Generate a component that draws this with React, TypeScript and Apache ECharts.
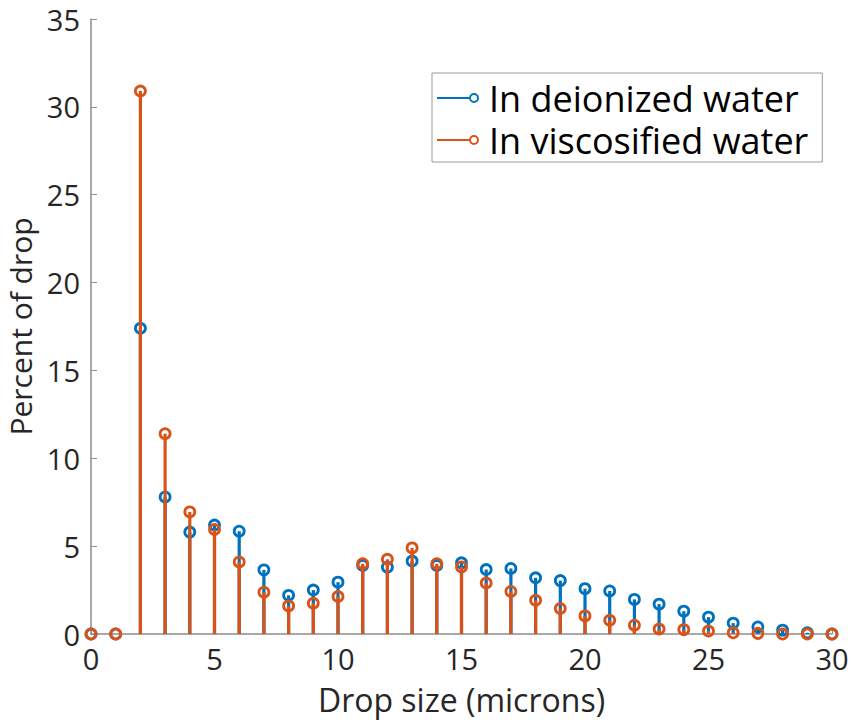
import React, { useEffect, useRef } from "react";
import * as echarts from "echarts";

const dropSizes = [0, 1, 2, 3, 4, 5, 6, 7, 8, 9, 10, 11, 12, 13, 14, 15, 16, 17, 18, 19, 20, 21, 22, 23, 24, 25, 26, 27, 28, 29, 30];
const deionized = [0, 0, 17.4, 7.8, 5.8, 6.2, 5.85, 3.65, 2.2, 2.5, 2.95, 3.9, 3.8, 4.15, 3.9, 4.05, 3.67, 3.73, 3.2, 3.04, 2.58, 2.45, 1.97, 1.7, 1.3, 0.96, 0.62, 0.4, 0.22, 0.07, 0];
const viscosified = [0, 0, 30.9, 11.4, 6.95, 5.95, 4.1, 2.38, 1.6, 1.75, 2.13, 4.0, 4.25, 4.9, 4.0, 3.82, 2.9, 2.42, 1.92, 1.45, 1.03, 0.78, 0.5, 0.28, 0.25, 0.17, 0.07, 0.03, 0, 0, 0];
const seriesNames = ["In deionized water", "In viscosified water"];
const yTicks = { min: 0, max: 35, interval: 5 };
const xTicks = { min: 0, max: 30, interval: 5 };

const BLUE = "#0072BD";
const ORANGE = "#D95319";
const AXIS = "#8c8c8c";
const TEXT = "#262626";
const FONT = "'Open Sans', 'Noto Sans', sans-serif";

const ICON =
  "path://M0 4 L32 4 L32 6 L0 6 Z M42 5 A5 5 0 1 0 32 5 A5 5 0 1 0 42 5 Z M40 5 A3 3 0 1 1 34 5 A3 3 0 1 1 40 5 Z";

export default function App() {
  const ref = useRef<HTMLDivElement>(null);
  useEffect(() => {
    if (!ref.current) return;
    const chart = echarts.init(ref.current, undefined, { renderer: "svg" });
    const pairs = (vals: number[]) => dropSizes.map((x, i) => [x, vals[i]]);
    const stem = (name: string, vals: number[], color: string, z: number) => ({
      name,
      type: "bar",
      data: pairs(vals),
      barWidth: 3.2,
      barGap: "-100%",
      itemStyle: { color },
      z,
      silent: true,
    });
    const marker = (name: string, vals: number[], color: string, z: number) => ({
      name,
      type: "scatter",
      data: pairs(vals),
      symbol: "circle",
      symbolSize: 10,
      itemStyle: { color: "none", borderColor: color, borderWidth: 2.8, opacity: 1 },
      z,
      silent: true,
    });
    chart.setOption({
      animation: false,
      backgroundColor: "#ffffff",
      grid: { left: 91, right: 21, top: 19, bottom: 86, containLabel: false, outerBoundsMode: "none" },
      legend: {
        orient: "vertical",
        left: 432,
        top: 73,
        itemWidth: 42,
        itemHeight: 10,
        itemGap: 6,
        padding: [7, 14, 4, 5],
        borderColor: "#9a9a9a",
        borderWidth: 1,
        backgroundColor: "#ffffff",
        selectedMode: false,
        textStyle: { fontSize: 36, lineHeight: 36, color: "#000000", fontFamily: FONT, padding: [0, 0, 0, 5] },
        data: [
          { name: seriesNames[0], icon: ICON, itemStyle: { color: BLUE, borderWidth: 0 } },
          { name: seriesNames[1], icon: ICON, itemStyle: { color: ORANGE, borderWidth: 0 } },
        ],
      },
      xAxis: {
        type: "value",
        min: xTicks.min,
        max: xTicks.max,
        interval: xTicks.interval,
        name: "Drop size (microns)",
        nameLocation: "middle",
        nameGap: 49,
        nameTextStyle: { fontSize: 32, color: TEXT, fontFamily: FONT },
        axisLine: { show: true, lineStyle: { color: AXIS, width: 1.5 } },
        axisTick: { show: true, inside: true, length: 6, lineStyle: { color: AXIS } },
        axisLabel: { fontSize: 29, color: TEXT, fontFamily: FONT, margin: 10 },
        splitLine: { show: false },
      },
      yAxis: {
        type: "value",
        min: yTicks.min,
        max: yTicks.max,
        interval: yTicks.interval,
        name: "Percent of drop",
        nameLocation: "middle",
        nameGap: 49,
        nameTextStyle: { fontSize: 30, color: TEXT, fontFamily: FONT },
        axisLine: { show: true, lineStyle: { color: AXIS, width: 1.5 } },
        axisTick: { show: true, inside: true, length: 6, lineStyle: { color: AXIS } },
        axisLabel: { fontSize: 29, color: TEXT, fontFamily: FONT, margin: 11 },
        splitLine: { show: false },
      },
      series: [
        stem(seriesNames[0], deionized, BLUE, 2),
        marker(seriesNames[0], deionized, BLUE, 3),
        stem(seriesNames[1], viscosified, ORANGE, 4),
        marker(seriesNames[1], viscosified, ORANGE, 5),
      ],
    });
    return () => chart.dispose();
  }, []);
  return (
    <div
      ref={ref}
      style={{ position: "fixed", left: 0, top: 0, width: 853, height: 720, background: "#fff" }}
    />
  );
}
